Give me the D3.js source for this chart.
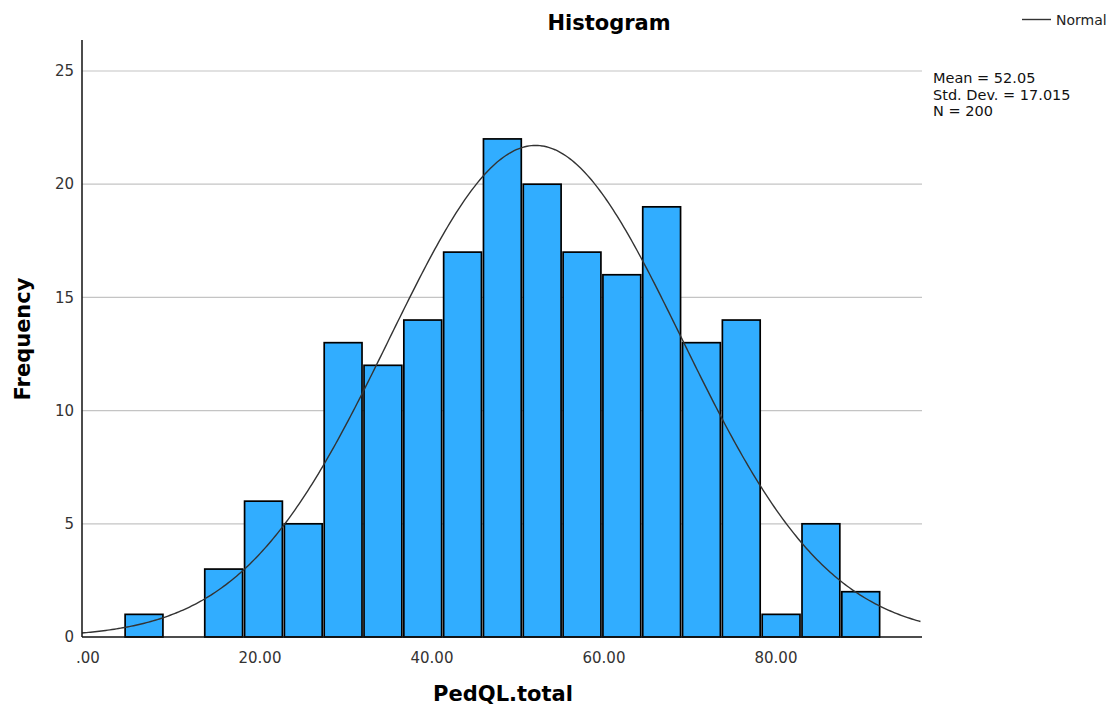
<!DOCTYPE html>
<html>
<head>
<meta charset="utf-8">
<script src="https://cdn.jsdelivr.net/npm/d3@7"></script>
<style>
  body { margin: 0; background: #fff; }
  text { font-family: "DejaVu Sans", sans-serif; }
</style>
</head>
<body>
<svg id="chart" width="1118" height="709"></svg>
<script>
// histogram counts per bin (PedQL.total)
const counts = [1, 0, 3, 6, 5, 13, 12, 14, 17, 22, 20, 17, 16, 19, 13, 14, 1, 5, 2];
const binStart = 4.2;
const binWidth = 4.63;
const xTicks = [0, 20, 40, 60, 80];
const yTicks = [0, 5, 10, 15, 20, 25];
const stats = { mean: 52.05, sd: 17.015, n: 200 };
const statLines = ['Mean = 52.05', 'Std. Dev. = 17.015', 'N = 200'];

const svg = d3.select('#chart');
const plot = { left: 82, right: 922, top: 40, bottom: 637 };

const x = d3.scaleLinear()
  .domain([-0.698, 96.98])
  .range([plot.left, plot.right]);

const y = d3.scaleLinear()
  .domain([0, 25])
  .range([plot.bottom, 71]);

// gridlines
svg.append('g')
  .selectAll('line')
  .data(yTicks.filter(d => d > 0))
  .enter().append('line')
    .attr('x1', plot.left)
    .attr('x2', plot.right)
    .attr('y1', d => y(d))
    .attr('y2', d => y(d))
    .style('stroke', '#c4c4c4')
    .style('stroke-width', 1.2);

// bars
const bins = counts.map((c, i) => ({
  x0: binStart + i * binWidth,
  x1: binStart + (i + 1) * binWidth,
  count: c,
}));

svg.append('g')
  .selectAll('rect')
  .data(bins.filter(d => d.count > 0))
  .enter().append('rect')
    .attr('x', d => x(d.x0) + 1)
    .attr('width', d => x(d.x1) - x(d.x0) - 2)
    .attr('y', d => y(d.count))
    .attr('height', d => y(0) - y(d.count))
    .style('fill', '#31adff')
    .style('stroke', '#000')
    .style('stroke-width', 1.7);

// normal curve
const scale = stats.n * binWidth / (stats.sd * Math.sqrt(2 * Math.PI));
const curveX = d3.range(x.domain()[0], x.domain()[1] + 0.01, 0.25);
const line = d3.line()
  .x(d => x(d))
  .y(d => y(scale * Math.exp(-0.5 * ((d - stats.mean) / stats.sd) ** 2)));

svg.append('path')
  .attr('d', line(curveX))
  .style('fill', 'none')
  .style('stroke', '#333')
  .style('stroke-width', 1.4);

// axes lines
svg.append('line')
  .attr('x1', plot.left).attr('x2', plot.left)
  .attr('y1', plot.top).attr('y2', plot.bottom)
  .style('stroke', '#111').style('stroke-width', 1.5);
svg.append('line')
  .attr('x1', plot.left).attr('x2', plot.right)
  .attr('y1', plot.bottom).attr('y2', plot.bottom)
  .style('stroke', '#111').style('stroke-width', 1.5);

// tick labels
svg.append('g')
  .selectAll('text')
  .data(yTicks)
  .enter().append('text')
    .attr('x', 74)
    .attr('y', d => y(d))
    .attr('dy', '0.35em')
    .attr('text-anchor', 'end')
    .style('font-size', '15px')
    .style('fill', '#333')
    .text(d => d);

const fmt = d => d3.format('.2f')(d).replace(/^0\./, '.');
svg.append('g')
  .selectAll('text')
  .data(xTicks)
  .enter().append('text')
    .attr('x', d => x(d))
    .attr('y', 663)
    .attr('text-anchor', 'middle')
    .style('font-size', '15px')
    .style('fill', '#333')
    .text(fmt);

// titles
svg.append('text')
  .attr('x', 609).attr('y', 30)
  .attr('text-anchor', 'middle')
  .style('font-size', '21px').style('font-weight', 'bold')
  .text('Histogram');

svg.append('text')
  .attr('transform', 'translate(30,339) rotate(-90)')
  .attr('text-anchor', 'middle')
  .style('font-size', '21px').style('font-weight', 'bold')
  .text('Frequency');

svg.append('text')
  .attr('x', 503).attr('y', 701)
  .attr('text-anchor', 'middle')
  .style('font-size', '21px').style('font-weight', 'bold')
  .text('PedQL.total');

// legend
svg.append('line')
  .attr('x1', 1022).attr('x2', 1051)
  .attr('y1', 19.5).attr('y2', 19.5)
  .style('stroke', '#333').style('stroke-width', 1.4);
svg.append('text')
  .attr('x', 1056).attr('y', 25)
  .style('font-size', '14px').style('fill', '#222')
  .text('Normal');

svg.append('g')
  .selectAll('text')
  .data(statLines)
  .enter().append('text')
    .attr('x', 933)
    .attr('y', (d, i) => 83 + i * 16.5)
    .style('font-size', '14.5px')
    .style('fill', '#111')
    .text(d => d);
</script>
</body>
</html>
